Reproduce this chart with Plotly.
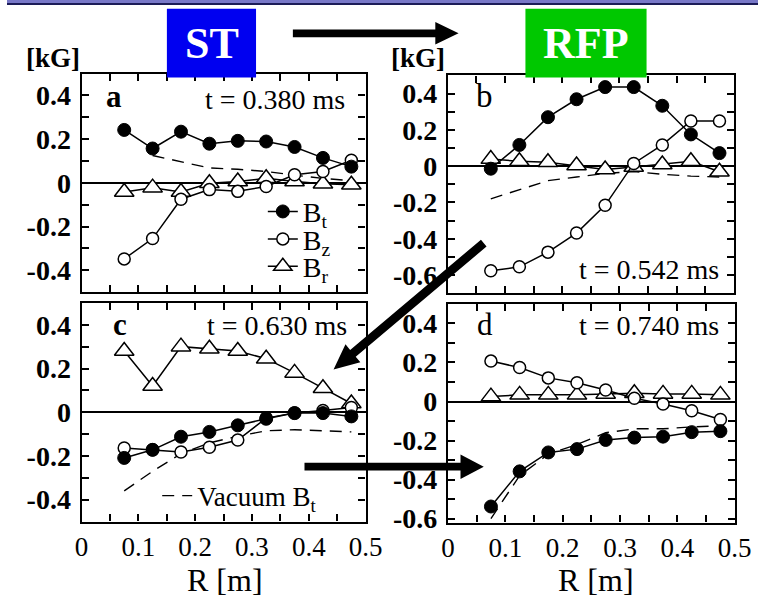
import plotly.graph_objects as go

# Radial positions of the magnetic probes [m]
R = [0.075, 0.125, 0.175, 0.225, 0.275, 0.325, 0.375, 0.425, 0.475]

# (a) t = 0.380 ms
bt_a = [0.242, 0.157, 0.234, 0.179, 0.192, 0.189, 0.164, 0.114, 0.074]
bz_a = [-0.348, -0.255, -0.075, -0.031, -0.039, -0.017, 0.037, 0.052, 0.103]
br_a = [-0.042, -0.022, -0.042, -0.002, 0.006, 0.021, 0.006, -0.004, -0.009]
vac_a = [None, 0.125, 0.095, 0.068, 0.062, 0.052, 0.035, 0.02, 0.01]

# (b) t = 0.542 ms
bt_b = [-0.014, 0.117, 0.270, 0.369, 0.436, 0.436, 0.333, 0.175, 0.072]
bz_b = [-0.577, -0.555, -0.474, -0.369, -0.216, 0.015, 0.117, 0.249, 0.249]
br_b = [0.039, 0.027, 0.022, 0.004, -0.018, -0.005, 0.009, 0.027, -0.031]
vac_b = [-0.18, -0.13, -0.08, -0.06, -0.04, -0.03, -0.045, -0.055, -0.06]

# (c) t = 0.630 ms
bt_c = [-0.209, -0.172, -0.112, -0.09, -0.06, -0.03, -0.004, -0.004, -0.019]
bz_c = [-0.164, -0.172, -0.182, -0.16, -0.127, -0.027, -0.003, 0.008, 0.022]
br_c = [0.28, 0.12, 0.30, 0.29, 0.28, 0.245, 0.18, 0.11, 0.04]
vac_c = [-0.36, -0.27, -0.19, -0.14, -0.11, -0.085, -0.08, -0.085, -0.09]

# (d) t = 0.740 ms
bt_d = [-0.538, -0.358, -0.261, -0.244, -0.197, -0.185, -0.180, -0.157, -0.152]
bz_d = [0.207, 0.174, 0.121, 0.096, 0.059, 0.017, -0.013, -0.047, -0.092]
br_d = [0.025, 0.034, 0.034, 0.034, 0.039, 0.042, 0.039, 0.039, 0.034]
vac_d = [-0.60, -0.38, -0.27, -0.22, -0.16, -0.14, -0.14, -0.13, -0.125]

panel_letters = ["a", "b", "c", "d"]
panel_times = ["t = 0.380 ms", "t = 0.542 ms", "t = 0.630 ms", "t = 0.740 ms"]
x_ticks = [0, 0.1, 0.2, 0.3, 0.4, 0.5]
y_ticks_short = [-0.4, -0.2, 0, 0.2, 0.4]
y_ticks_long = [-0.6, -0.4, -0.2, 0, 0.2, 0.4]

W, H = 775, 610
SERIF = "Liberation Serif"


def px(x):
    return x / W


def py(y):
    return 1 - y / H


def fmt(v):
    return "0" if v == 0 else f"{v:.1f}"


# panel frames in pixels: (left, top, right, bottom), y-range, y ticks
panels = [
    dict(box=(77, 75, 370, 298), yr=[-0.5, 0.5], yt=y_ticks_short,
         data=(bt_a, bz_a, br_a, vac_a)),
    dict(box=(455, 77, 750, 299), yr=[-0.7, 0.5], yt=y_ticks_long,
         data=(bt_b, bz_b, br_b, vac_b)),
    dict(box=(77, 309, 370, 532), yr=[-0.5, 0.5], yt=y_ticks_short,
         data=(bt_c, bz_c, br_c, vac_c)),
    dict(box=(455, 310, 751, 533), yr=[-0.62, 0.5], yt=y_ticks_long,
         data=(bt_d, bz_d, br_d, vac_d)),
]

fig = go.Figure()
line_style = dict(color="black", width=1.5)

for i, p in enumerate(panels):
    n = "" if i == 0 else str(i + 1)
    xa, ya = "x" + n, "y" + n
    bt, bz, br, vac = p["data"]
    fig.add_trace(go.Scatter(
        x=R, y=vac, mode="lines", xaxis=xa, yaxis=ya,
        line=dict(color="black", width=1.4, dash="12px,8px"),
        name="Vacuum B<sub>t</sub>", showlegend=(i == 2), legend="legend2",
        connectgaps=False))
    fig.add_trace(go.Scatter(
        x=R, y=br, mode="lines+markers", xaxis=xa, yaxis=ya, line=line_style,
        marker=dict(symbol="triangle-up", size=17, color="white",
                    line=dict(color="black", width=1.5)),
        name="B<sub>r</sub>", showlegend=(i == 0), legend="legend4"))
    fig.add_trace(go.Scatter(
        x=R, y=bz, mode="lines+markers", xaxis=xa, yaxis=ya, line=line_style,
        marker=dict(symbol="circle", size=12, color="white",
                    line=dict(color="black", width=1.5)),
        name="B<sub>z</sub>", showlegend=(i == 0), legend="legend3"))
    fig.add_trace(go.Scatter(
        x=R, y=bt, mode="lines+markers", xaxis=xa, yaxis=ya, line=line_style,
        marker=dict(symbol="circle", size=13, color="black",
                    line=dict(color="black", width=1)),
        name="B<sub>t</sub>", showlegend=(i == 0), legend="legend"))

    l, t, r, b = p["box"]
    bottom_row = i >= 2
    xaxis = dict(
        domain=[px(l), px(r)], range=[0, 0.5], anchor=ya,
        tickmode="array", tickvals=x_ticks, ticktext=[fmt(v) for v in x_ticks],
        ticks="inside", ticklen=7, tickwidth=1.5, tickcolor="black",
        minor=dict(dtick=0.05, tick0=0, ticks="inside", ticklen=7,
                   tickwidth=1.5, tickcolor="black"),
        showline=True, linecolor="black", linewidth=2.2, mirror="ticks",
        showgrid=False, zeroline=False, showticklabels=bottom_row,
        tickfont=dict(family=SERIF, size=27, color="black"),
    )
    yaxis = dict(
        domain=[py(b), py(t)], range=p["yr"], anchor=xa,
        tickmode="array", tickvals=p["yt"], ticktext=[fmt(v) for v in p["yt"]],
        ticks="inside", ticklen=7, tickwidth=1.5, tickcolor="black",
        minor=dict(dtick=0.1, tick0=0, ticks="inside", ticklen=7,
                   tickwidth=1.5, tickcolor="black"),
        showline=True, linecolor="black", linewidth=2.2, mirror="ticks",
        showgrid=False, zeroline=True, zerolinecolor="black",
        zerolinewidth=2, ticklabelstandoff=3,
        tickfont=dict(family=SERIF, size=28, color="black", weight="bold"),
    )
    fig.layout["xaxis" + n] = xaxis
    fig.layout["yaxis" + n] = yaxis

annotations = []


def text(x, y, s, size, bold=False, color="black", xanchor="center"):
    annotations.append(dict(
        x=px(x), y=py(y), xref="paper", yref="paper", text=s,
        showarrow=False, xanchor=xanchor, yanchor="middle",
        font=dict(family=SERIF, size=size, color=color,
                  weight="bold" if bold else "normal")))


# panel letters and times
text(110, 98, "a", 31, bold=True)
text(493, 98, "b", 33)
text(117, 331, "c", 31, bold=True)
text(493, 331, "d", 31)
text(351, 101, panel_times[0], 28, xanchor="right")
text(737, 275, panel_times[1], 28, xanchor="right")
text(353, 332, panel_times[2], 28, xanchor="right")
text(737, 332, panel_times[3], 28, xanchor="right")

# unit labels and axis titles
text(47, 59, "[kG]", 27, bold=True)
text(424, 59, "[kG]", 27, bold=True)
text(225, 592, "R [m]", 32)
text(608, 592, "R [m]", 32)

shapes = []

# slide border along the top
shapes.append(dict(type="rect", xref="paper", yref="paper",
                   x0=0, x1=1, y0=py(0), y1=py(3),
                   fillcolor="#7878c8", line=dict(width=0), layer="above"))
shapes.append(dict(type="rect", xref="paper", yref="paper",
                   x0=0, x1=1, y0=py(3), y1=py(5),
                   fillcolor="#1c1c58", line=dict(width=0), layer="above"))

# ST / RFP tags
shapes.append(dict(type="rect", xref="paper", yref="paper",
                   x0=px(165), x1=px(257), y0=py(79), y1=py(9),
                   fillcolor="#0000f0", line=dict(width=0), layer="above"))
shapes.append(dict(type="rect", xref="paper", yref="paper",
                   x0=px(535), x1=px(660), y0=py(79), y1=py(9),
                   fillcolor="#00c800", line=dict(width=0), layer="above"))
text(212, 44, "ST", 44, bold=True, color="white")
text(598, 44, "RFP", 44, bold=True, color="white")


def arrow(x0, y0, x1, y1, w, head_len, head_w):
    """Filled arrow polygon from (x0, y0) to the tip (x1, y1), pixel units."""
    dx, dy = x1 - x0, y1 - y0
    ln = (dx * dx + dy * dy) ** 0.5
    ux, uy = dx / ln, dy / ln
    nx, ny = -uy, ux
    bx, by = x1 - ux * head_len, y1 - uy * head_len
    pts = [
        (x0 + nx * w / 2, y0 + ny * w / 2),
        (bx + nx * w / 2, by + ny * w / 2),
        (bx + nx * head_w / 2, by + ny * head_w / 2),
        (x1, y1),
        (bx - nx * head_w / 2, by - ny * head_w / 2),
        (bx - nx * w / 2, by - ny * w / 2),
        (x0 - nx * w / 2, y0 - ny * w / 2),
    ]
    path = "M" + " L".join(f"{px(a):.5f},{py(b):.5f}" for a, b in pts) + " Z"
    shapes.append(dict(type="path", xref="paper", yref="paper", path=path,
                       fillcolor="black", line=dict(width=0), layer="above"))


arrow(295, 34, 466, 34, 8, 24, 23)
arrow(492, 248, 337, 377, 9, 26, 24)
arrow(307, 476, 492, 476, 8, 24, 25)

key_font = dict(family=SERIF, size=28, color="black")
key = dict(xanchor="left", yanchor="middle", bgcolor="rgba(0,0,0,0)",
           borderwidth=0, font=key_font)

fig.update_layout(
    width=W, height=H, margin=dict(l=0, r=0, t=0, b=0),
    paper_bgcolor="white", plot_bgcolor="white",
    annotations=annotations, shapes=shapes,
    legend=dict(key, x=px(264), y=py(216)),
    legend3=dict(key, x=px(264), y=py(244)),
    legend4=dict(key, x=px(264), y=py(272)),
    legend2=dict(key, x=px(155), y=py(506),
                 font=dict(family=SERIF, size=27, color="black")),
)

fig.write_html("out.html")
